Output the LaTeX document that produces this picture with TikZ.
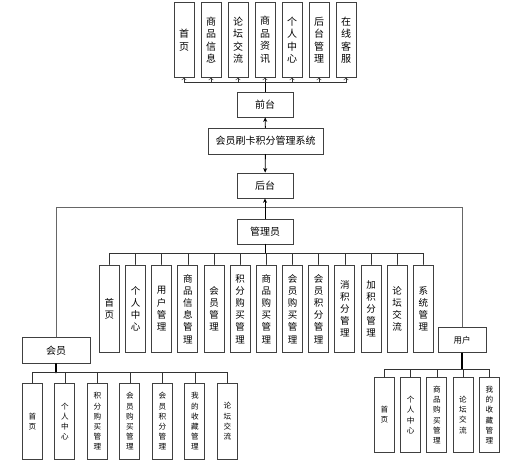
\documentclass[tikz,border=0pt]{standalone}
\usepackage{fontspec}
\newfontfamily\cjk{Noto Sans CJK SC}
\usetikzlibrary{arrows.meta}

\begin{document}
\begin{tikzpicture}[x=1pt,y=-1pt,>={Stealth[length=4.5pt,width=4pt]},line cap=round,
  box/.style={draw=black!75,line width=0.8pt,fill=white,inner sep=0pt,font=\cjk\fontsize{10}{12}\selectfont},
  topbox/.style={box,minimum width=20pt,minimum height=74.6pt,align=center,font=\cjk\fontsize{10}{12.5}\selectfont},
  adminbox/.style={box,minimum width=20pt,minimum height=87.7pt,align=center,font=\cjk\fontsize{9.5}{12.2}\selectfont},
  subbox/.style={box,minimum width=20pt,minimum height=75pt,align=center,font=\cjk\fontsize{7.6}{10.1}\selectfont},
  bar/.style={-{Straight Barb[length=2pt,width=4.5pt]},black!80,line width=0.5pt},
  wire/.style={black!80,line width=0.6pt},
  gwire/.style={black!60,line width=0.8pt}]
\useasboundingbox (0,0) rectangle (527,462);

% front end
\node[topbox] (t1) at (184,40) {首\\页};
\node[topbox] (t2) at (211,40) {商\\品\\信\\息};
\node[topbox] (t3) at (238,40) {论\\坛\\交\\流};
\node[topbox] (t4) at (265,40) {商\\品\\资\\讯};
\node[topbox] (t5) at (292,40) {个\\人\\中\\心};
\node[topbox] (t6) at (319,40) {后\\台\\管\\理};
\node[topbox] (t7) at (346,40) {在\\线\\客\\服};
\node[box,minimum width=56pt,minimum height=25pt] (front) at (265,104.5) {前台};
\node[box,minimum width=115pt,minimum height=26pt] (sys) at (265.5,141) {会员刷卡积分管理系统};
\node[box,minimum width=56pt,minimum height=25pt] (back) at (265,185.5) {后台};
\coordinate (fbus) at (265,82.7);
\draw[black,line width=1pt] (front.north) -- (fbus);
\draw[bar] (fbus) -| (t1.south);
\draw[bar] (fbus) -| (t2.south);
\draw[bar] (fbus) -| (t3.south);
\draw[bar] (fbus) -- (t4.south);
\draw[bar] (fbus) -| (t5.south);
\draw[bar] (fbus) -| (t6.south);
\draw[bar] (fbus) -| (t7.south);
\draw[->,line width=0.9pt] (sys) -- (front);
\draw[->,line width=0.9pt] (sys) -- (back);

% back end
\node[box,minimum width=56pt,minimum height=25pt] (admin) at (265,231.5) {管理员};
\node[box,minimum width=68pt,minimum height=26pt] (member) at (56,350.3) {会员};
\node[box,minimum width=48pt,minimum height=25.5pt,font=\cjk\fontsize{8.5}{10}\selectfont] (user) at (462,340) {用户};
\coordinate (bbus) at (265,207.7);
\draw[gwire] (member.north) |- (bbus) -| (user.north);
\draw[->,line width=0.9pt] (admin) -- (back);

% administrator
\node[adminbox] (a1) at (109.3,308.8) {首\\页};
\node[adminbox] (a2) at (135.5,308.8) {个\\人\\中\\心};
\node[adminbox] (a3) at (161.6,308.8) {用\\户\\管\\理};
\node[adminbox] (a4) at (187.8,308.8) {商\\品\\信\\息\\管\\理};
\node[adminbox] (a5) at (214,308.8) {会\\员\\管\\理};
\node[adminbox] (a6) at (240.2,308.8) {积\\分\\购\\买\\管\\理};
\node[adminbox] (a7) at (266.3,308.8) {商\\品\\购\\买\\管\\理};
\node[adminbox] (a8) at (292.5,308.8) {会\\员\\购\\买\\管\\理};
\node[adminbox] (a9) at (318.7,308.8) {会\\员\\积\\分\\管\\理};
\node[adminbox] (a10) at (344.8,308.8) {消\\积\\分\\管\\理};
\node[adminbox] (a11) at (371,308.8) {加\\积\\分\\管\\理};
\node[adminbox] (a12) at (397.2,308.8) {论\\坛\\交\\流};
\node[adminbox] (a13) at (423.3,308.8) {系\\统\\管\\理};
\coordinate (abus) at (265,253.3);
\draw[black,line width=1pt] (admin.south) -- (abus);
\draw[wire] (abus) -| (a1.north);
\draw[wire] (abus) -| (a2.north);
\draw[wire] (abus) -| (a3.north);
\draw[wire] (abus) -| (a4.north);
\draw[wire] (abus) -| (a5.north);
\draw[wire] (abus) -| (a6.north);
\draw[wire] (abus) -| (a7.north);
\draw[wire] (abus) -| (a8.north);
\draw[wire] (abus) -| (a9.north);
\draw[wire] (abus) -| (a10.north);
\draw[wire] (abus) -| (a11.north);
\draw[wire] (abus) -| (a12.north);
\draw[wire] (abus) -| (a13.north);

% member
\node[subbox,minimum height=75.7pt] (m1) at (32.3,421.2) {首\\页};
\node[subbox,minimum height=75.7pt] (m2) at (64.8,421.2) {个\\人\\中\\心};
\node[subbox,minimum height=75.7pt] (m3) at (97.3,421.2) {积\\分\\购\\买\\管\\理};
\node[subbox,minimum height=75.7pt] (m4) at (129.8,421.2) {会\\员\\购\\买\\管\\理};
\node[subbox,minimum height=75.7pt] (m5) at (162.3,421.2) {会\\员\\积\\分\\管\\理};
\node[subbox,minimum height=75.7pt] (m6) at (194.8,421.2) {我\\的\\收\\藏\\管\\理};
\node[subbox,minimum height=75.7pt] (m7) at (227.3,421.2) {论\\坛\\交\\流};
\coordinate (mbus) at (56,372.7);
\draw[black,line width=1.2pt] (member.south) -- (mbus);
\draw[wire] (mbus) -| (m1.north);
\draw[wire] (mbus) -| (m2.north);
\draw[wire] (mbus) -| (m3.north);
\draw[wire] (mbus) -| (m4.north);
\draw[wire] (mbus) -| (m5.north);
\draw[wire] (mbus) -| (m6.north);
\draw[wire] (mbus) -| (m7.north);

% user
\node[subbox,minimum height=74.6pt] (u1) at (384.3,415) {首\\页};
\node[subbox,minimum height=74.6pt] (u2) at (410.6,415) {个\\人\\中\\心};
\node[subbox,minimum height=74.6pt] (u3) at (436.8,415) {商\\品\\购\\买\\管\\理};
\node[subbox,minimum height=74.6pt] (u4) at (463,415) {论\\坛\\交\\流};
\node[subbox,minimum height=74.6pt] (u5) at (489.3,415) {我\\的\\收\\藏\\管\\理};
\coordinate (ubus) at (462,369.3);
\draw[black,line width=1.2pt] (user.south) -- (ubus);
\draw[wire] (ubus) -| (u1.north);
\draw[wire] (ubus) -| (u2.north);
\draw[wire] (ubus) -| (u3.north);
\draw[wire] (ubus) -| (u4.north);
\draw[wire] (ubus) -| (u5.north);
\end{tikzpicture}
\end{document}
